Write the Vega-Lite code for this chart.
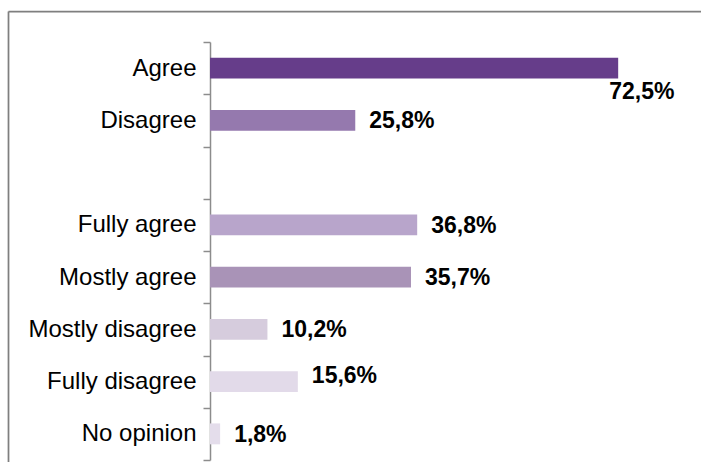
{
  "$schema": "https://vega.github.io/schema/vega-lite/v6.json",
  "width": 693,
  "height": 451,
  "autosize": {"type": "none"},
  "padding": {"left": 8, "top": 11, "right": 0, "bottom": 0},
  "background": "#ffffff",
  "config": {
    "locale": {"number": {"decimal": ",", "thousands": ".", "grouping": [3], "currency": ["", " €"]}},
    "view": {"stroke": null},
    "font": "Liberation Sans"
  },
  "data": {
    "values": [
      {"category": "Agree", "share": 0.725},
      {"category": "Disagree", "share": 0.258},
      {"category": "Fully agree", "share": 0.368},
      {"category": "Mostly agree", "share": 0.357},
      {"category": "Mostly disagree", "share": 0.102},
      {"category": "Fully disagree", "share": 0.156},
      {"category": "No opinion", "share": 0.018}
    ]
  },
  "encoding": {
    "x": {
      "field": "share",
      "type": "quantitative",
      "scale": {"domain": [-0.3588, 0.8721], "nice": false, "zero": false},
      "axis": {"orient": "top", "title": null, "labels": false, "ticks": false, "grid": false, "domainColor": "#7f7f7f", "domainWidth": 1.75}
    }
  },
  "layer": [
    {
      "mark": {"type": "point", "opacity": 0},
      "encoding": {
        "y": {
          "field": "category",
          "type": "nominal",
          "scale": {"range": [0, 451]},
          "axis": {"orient": "left", "title": null, "labels": false, "ticks": false, "grid": false, "domainColor": "#7f7f7f", "domainWidth": 1.75}
        }
      }
    },
    {
      "encoding": {
        "y": {
          "field": "category",
          "type": "nominal",
          "scale": {
            "domain": ["Agree", "Disagree", " ", "Fully agree", "Mostly agree", "Mostly disagree", "Fully disagree", "No opinion"],
            "range": [31, 449],
            "paddingInner": 0,
            "paddingOuter": 0
          },
          "axis": {
            "orient": "left",
            "title": null,
            "offset": -202,
            "domainColor": "#8c8c8c",
            "domainWidth": 1.5,
            "tickColor": "#8c8c8c",
            "tickWidth": 1.5,
            "tickSize": 7,
            "tickBand": "extent",
            "labelFontSize": 24,
            "labelColor": "#000000",
            "labelPadding": 7,
            "labelLimit": 300,
            "grid": false
          }
        }
      },
      "layer": [
        {
          "mark": {"type": "bar", "height": {"band": 0.4}},
          "encoding": {
            "color": {
              "field": "category",
              "type": "nominal",
              "scale": {
                "domain": ["Agree", "Disagree", "Fully agree", "Mostly agree", "Mostly disagree", "Fully disagree", "No opinion"],
                "range": ["#663d8a", "#9579ae", "#b8a5cb", "#a993b7", "#d6ccdd", "#e2dae9", "#e4ddeb"]
              },
              "legend": null
            }
          }
        },
        {
          "transform": [{"filter": "datum.category != 'Agree' && datum.category != 'Fully disagree'"}],
          "mark": {"type": "text", "align": "left", "baseline": "middle", "dx": 14, "dy": 1, "fontSize": 23, "fontWeight": "bold", "color": "#000000"},
          "encoding": {"text": {"field": "share", "type": "quantitative", "format": ".1%"}}
        },
        {
          "transform": [{"filter": "datum.category == 'Agree'"}],
          "mark": {"type": "text", "align": "left", "baseline": "middle", "dx": -9, "dy": 24, "fontSize": 23, "fontWeight": "bold", "color": "#000000"},
          "encoding": {"text": {"field": "share", "type": "quantitative", "format": ".1%"}}
        },
        {
          "transform": [{"filter": "datum.category == 'Fully disagree'"}],
          "mark": {"type": "text", "align": "left", "baseline": "middle", "dx": 14, "dy": -6, "fontSize": 23, "fontWeight": "bold", "color": "#000000"},
          "encoding": {"text": {"field": "share", "type": "quantitative", "format": ".1%"}}
        }
      ]
    }
  ],
  "resolve": {"scale": {"y": "independent"}, "axis": {"y": "independent"}}
}
